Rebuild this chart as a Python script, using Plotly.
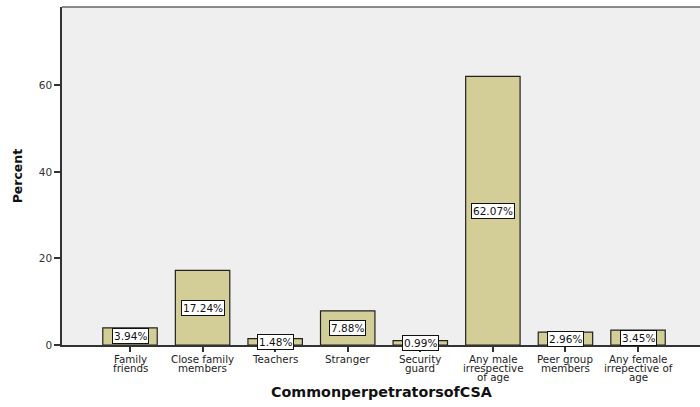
import plotly.graph_objects as go

# Common perpetrators of CSA, percentage of respondents
categories = [
    "Family friends",
    "Close family members",
    "Teachers",
    "Stranger",
    "Security guard",
    "Any male irrespective of age",
    "Peer group members",
    "Any female irrepective of age",
]
label_lines = [
    ["Family", "friends"],
    ["Close family", "members"],
    ["Teachers"],
    ["Stranger"],
    ["Security", "guard"],
    ["Any male", "irrespective", "of age"],
    ["Peer group", "members"],
    ["Any female", "irrepective of", "age"],
]
percent = [3.94, 17.24, 1.48, 7.88, 0.99, 62.07, 2.96, 3.45]
y_ticks = [0, 20, 40, 60]

FONT = "DejaVu Sans, Verdana, sans-serif"
BAR_FILL = "#D3CE97"

x_idx = list(range(len(categories)))

fig = go.Figure()
fig.add_trace(go.Bar(
    x=x_idx,
    y=percent,
    width=0.75,
    marker=dict(color=BAR_FILL, line=dict(color="#222222", width=1.2)),
    hoverinfo="skip",
))

annotations = []
# value labels in white boxes at the middle of each bar
for i, v in enumerate(percent):
    annotations.append(dict(
        x=i, y=v / 2, xref="x", yref="y",
        text=f"{v:.2f}%", showarrow=False,
        font=dict(family=FONT, size=10.5, color="#111111"),
        bgcolor="white", bordercolor="#111111", borderwidth=1, borderpad=1,
    ))
# category labels, tightly stacked lines under each tick
for i, lines in enumerate(label_lines):
    for j, line in enumerate(lines):
        annotations.append(dict(
            x=i, y=0, xref="x", yref="y",
            text=line, showarrow=False,
            xanchor="center", yanchor="top",
            yshift=-6 - 9 * j,
            font=dict(family=FONT, size=10.3, color="#222222"),
        ))
annotations.append(dict(
    x=0.5, y=-0.138, xref="paper", yref="paper",
    text="<b>CommonperpetratorsofCSA</b>", showarrow=False,
    xanchor="center", yanchor="middle",
    font=dict(family=FONT, size=14.3, color="#111111"),
))
annotations.append(dict(
    x=-0.07, y=0.5, xref="paper", yref="paper",
    text="<b>Percent</b>", showarrow=False, textangle=-90,
    xanchor="center", yanchor="middle",
    font=dict(family=FONT, size=12.5, color="#111111"),
))

fig.update_layout(
    width=700, height=407,
    margin=dict(l=62, r=0, t=7, b=62),
    paper_bgcolor="white",
    plot_bgcolor="#EFEFEF",
    showlegend=False,
    annotations=annotations,
    shapes=[dict(type="line", xref="paper", yref="paper",
                 x0=0, x1=1, y0=1, y1=1,
                 line=dict(color="#8A8A8A", width=2))],
    xaxis=dict(
        range=[-0.937, 7.854],
        tickmode="array", tickvals=x_idx, showticklabels=False,
        ticks="outside", ticklen=5, tickcolor="#333333", tickwidth=1.5,
        showline=True, linecolor="#333333", linewidth=1.5,
        showgrid=False, zeroline=False, fixedrange=True,
    ),
    yaxis=dict(
        range=[0, 78.1],
        tickmode="array", tickvals=y_ticks,
        ticks="outside", ticklen=6, tickcolor="#333333", tickwidth=1.5,
        tickfont=dict(family=FONT, size=10.5, color="#333333"),
        showline=True, linecolor="#333333", linewidth=1.5,
        showgrid=False, zeroline=False, fixedrange=True,
    ),
)

fig.write_html("out.html")
